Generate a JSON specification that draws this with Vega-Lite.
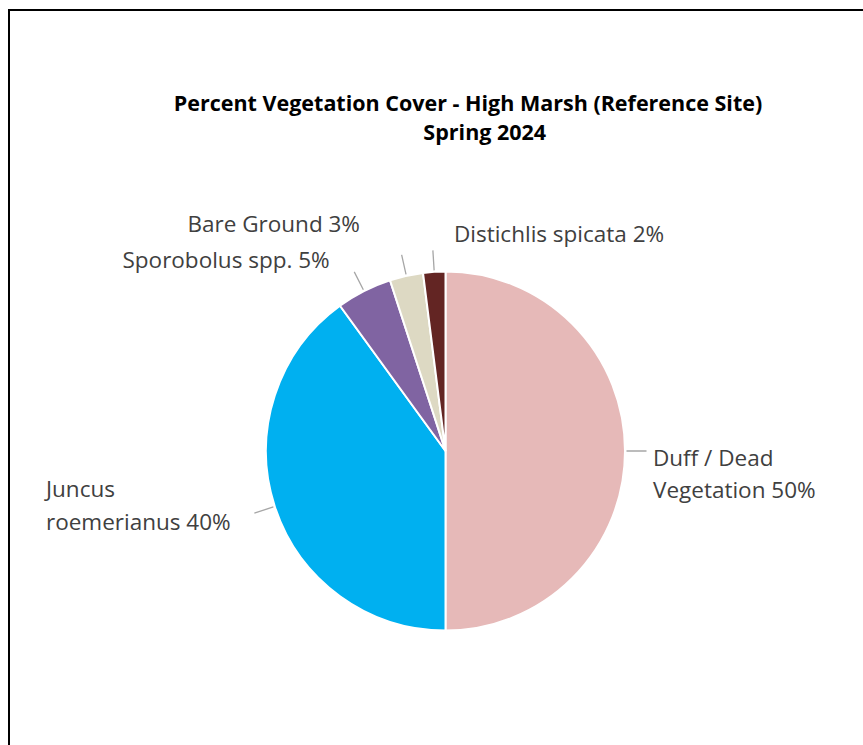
{
  "$schema": "https://vega.github.io/schema/vega-lite/v6.json",
  "width": 873,
  "height": 882,
  "padding": {"left": 9, "top": 10, "right": -19, "bottom": -147},
  "autosize": {"type": "none"},
  "background": "white",
  "view": {
    "stroke": {
      "gradient": "linear",
      "x1": 0, "y1": 0, "x2": 1, "y2": 0,
      "stops": [
        {"offset": 0, "color": "#000000"},
        {"offset": 0.993, "color": "#000000"},
        {"offset": 0.995, "color": "#ffffff"},
        {"offset": 1, "color": "#ffffff"}
      ]
    },
    "strokeWidth": 2
  },
  "config": {
    "view": {"stroke": null},
    "font": "Open Sans"
  },
  "title": {
    "text": ["Percent Vegetation Cover - High Marsh (Reference Site)", "\u200b\u00a0\u00a0\u00a0\u00a0\u00a0\u00a0Spring 2024"],
    "anchor": "middle",
    "frame": "group",
    "orient": "top",
    "offset": -134,
    "dx": 22.5,
    "font": "Open Sans",
    "fontSize": 21.5,
    "fontWeight": "bold",
    "color": "#000000",
    "lineHeight": 29
  },
  "data": {
    "values": [
      {"cat": "Duff / Dead Vegetation", "value": 50, "rank": 1, "label": "Duff / Dead\nVegetation 50%"},
      {"cat": "Juncus roemerianus", "value": 40, "rank": 2, "label": "Juncus\nroemerianus 40%"},
      {"cat": "Sporobolus spp.", "value": 5, "rank": 3, "label": "Sporobolus spp. 5%"},
      {"cat": "Bare Ground", "value": 3, "rank": 4, "label": "Bare Ground 3%"},
      {"cat": "Distichlis spicata", "value": 2, "rank": 5, "label": "Distichlis spicata 2%"}
    ]
  },
  "layer": [
    {
      "mark": {"type": "arc", "radius": 179.5, "stroke": "#ffffff", "strokeWidth": 2},
      "encoding": {
        "theta": {"field": "value", "type": "quantitative", "stack": true, "scale": {"domain": [0, 100]}},
        "order": {"field": "rank", "type": "quantitative"},
        "color": {
          "field": "cat",
          "type": "nominal",
          "legend": null,
          "scale": {
            "domain": ["Duff / Dead Vegetation", "Juncus roemerianus", "Sporobolus spp.", "Bare Ground", "Distichlis spicata"],
            "range": ["#E6B9B8", "#00B0F0", "#8064A2", "#DDD9C3", "#632523"]
          }
        }
      }
    },
    {
      "mark": {"type": "arc", "radius": 201, "radius2": 181, "padAngle": 3.1416, "fillOpacity": 0, "stroke": "#A6A6A6", "strokeWidth": 1.3},
      "encoding": {
        "theta": {"field": "value", "type": "quantitative", "stack": true},
        "order": {"field": "rank", "type": "quantitative"}
      }
    },
    {
      "mark": {"type": "text", "radius": 200, "align": "left", "baseline": "middle", "dx": 7.5, "dy": 7.8, "fontSize": 22.5, "color": "#404040", "lineBreak": "\n", "lineHeight": 32},
      "encoding": {
        "theta": {"field": "value", "type": "quantitative", "stack": true},
        "order": {"field": "rank", "type": "quantitative"},
        "text": {"condition": {"test": "datum.rank === 1", "field": "label", "type": "nominal"}, "value": ""}
      }
    },
    {
      "mark": {"type": "text", "radius": 200, "align": "left", "baseline": "middle", "dx": -209.3, "dy": -23, "fontSize": 22.5, "color": "#404040", "lineBreak": "\n", "lineHeight": 33},
      "encoding": {
        "theta": {"field": "value", "type": "quantitative", "stack": true},
        "order": {"field": "rank", "type": "quantitative"},
        "text": {"condition": {"test": "datum.rank === 2", "field": "label", "type": "nominal"}, "value": ""}
      }
    },
    {
      "mark": {"type": "text", "radius": 200, "align": "right", "baseline": "middle", "dx": -25, "dy": -12.2, "fontSize": 22.5, "color": "#404040"},
      "encoding": {
        "theta": {"field": "value", "type": "quantitative", "stack": true},
        "order": {"field": "rank", "type": "quantitative"},
        "text": {"condition": {"test": "datum.rank === 3", "field": "label", "type": "nominal"}, "value": ""}
      }
    },
    {
      "mark": {"type": "text", "radius": 200, "align": "right", "baseline": "middle", "dx": -41.9, "dy": -31.2, "fontSize": 22.5, "color": "#404040"},
      "encoding": {
        "theta": {"field": "value", "type": "quantitative", "stack": true},
        "order": {"field": "rank", "type": "quantitative"},
        "text": {"condition": {"test": "datum.rank === 4", "field": "label", "type": "nominal"}, "value": ""}
      }
    },
    {
      "mark": {"type": "text", "radius": 200, "align": "left", "baseline": "middle", "dx": 21, "dy": -16.8, "fontSize": 22.5, "color": "#404040"},
      "encoding": {
        "theta": {"field": "value", "type": "quantitative", "stack": true},
        "order": {"field": "rank", "type": "quantitative"},
        "text": {"condition": {"test": "datum.rank === 5", "field": "label", "type": "nominal"}, "value": ""}
      }
    }
  ]
}
